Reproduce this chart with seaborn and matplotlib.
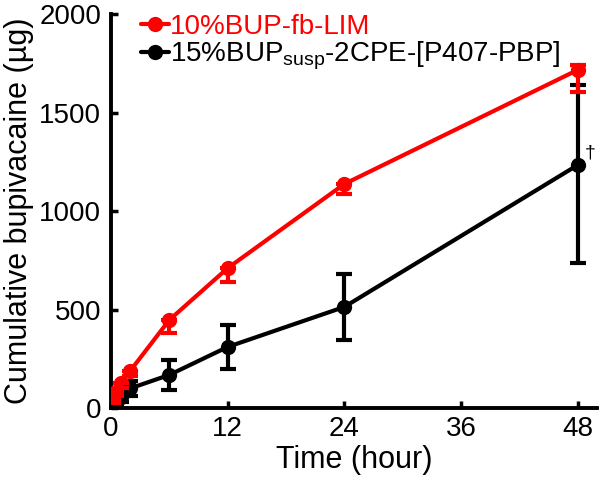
import matplotlib
matplotlib.use("Agg")
import matplotlib.pyplot as plt
import seaborn as sns
import pandas as pd
import numpy as np
from matplotlib.lines import Line2D

sns.set_theme(style="ticks")
plt.rcParams['font.family'] = ['Liberation Sans', 'DejaVu Sans']
plt.rcParams['mathtext.fontset'] = 'custom'
plt.rcParams['mathtext.rm'] = 'Liberation Sans'
plt.rcParams['mathtext.it'] = 'Liberation Sans'
plt.rcParams['text.color'] = 'black'
plt.rcParams['axes.labelcolor'] = 'black'
plt.rcParams['xtick.color'] = 'black'
plt.rcParams['ytick.color'] = 'black'

time_h = [0.25, 0.5, 1, 2, 6, 12, 24, 48]
red_vals = [40, 80, 125, 190, 447, 710, 1137, 1716]
red_err_lo = [15, 20, 25, 30, 67, 70, 51, 112]
red_err_hi = [0, 0, 0, 0, 0, 0, 0, 25]
black_vals = [10, 25, 55, 100, 168, 310, 513, 1233]
black_err_lo = [8, 15, 25, 38, 75, 110, 167, 497]
black_err_hi = [8, 15, 25, 38, 75, 110, 167, 407]
label_red = '10%BUP-fb-LIM'
label_black = r'15%BUP$_{\mathrm{susp}}$-2CPE-[P407-PBP]'

df = pd.DataFrame({
    'time': time_h * 2,
    'value': red_vals + black_vals,
    'group': [label_red] * len(time_h) + [label_black] * len(time_h),
})

fig = plt.figure(figsize=(6.0, 4.84), dpi=100)
ax = fig.add_axes([0.185, 0.157, 0.81, 0.814])

palette = {label_red: '#ff0000', label_black: '#000000'}
sns.lineplot(data=df, x='time', y='value', hue='group', palette=palette,
             marker='o', markersize=11, markeredgewidth=0, linewidth=3,
             ax=ax, legend=False, zorder=3)

ax.errorbar(time_h, black_vals, yerr=[black_err_lo, black_err_hi], fmt='none',
            ecolor='black', elinewidth=3, capsize=6, capthick=3, zorder=2)
ax.errorbar(time_h, red_vals, yerr=[red_err_lo, red_err_hi], fmt='none',
            ecolor='#ff0000', elinewidth=3, capsize=6, capthick=3, zorder=4)

ax.text(48.7, 1233 + 60, '†', fontsize=14, ha='left', va='center', color='black')

ax.set_xlim(0, 50)
ax.set_ylim(0, 2000)
ax.set_xticks([0, 12, 24, 36, 48])
ax.set_yticks([0, 500, 1000, 1500, 2000])
ax.tick_params(direction='in', length=5, width=2.5, labelsize=20, colors='black')
ax.tick_params(axis='y', pad=7)
ax.tick_params(axis='x', pad=6)
for s in ['top', 'right']:
    ax.spines[s].set_visible(False)
for s in ['left', 'bottom']:
    ax.spines[s].set_linewidth(2.8)
    ax.spines[s].set_color('black')

ax.set_xlabel('Time (hour)', fontsize=22, labelpad=2)
ax.set_ylabel('Cumulative bupivacaine (µg)', fontsize=22, labelpad=4)

handles = [Line2D([], [], color='#ff0000', marker='o', markersize=11, lw=3, markeredgewidth=0),
           Line2D([], [], color='black', marker='o', markersize=11, lw=3, markeredgewidth=0)]
leg = ax.legend(handles, [label_red, label_black], loc='upper left',
                bbox_to_anchor=(0.062, 1.0), frameon=False, fontsize=20,
                handlelength=1.0, handletextpad=0.05, labelspacing=0.0,
                borderaxespad=0, borderpad=0)
leg.get_texts()[0].set_color('#ff0000')

fig.savefig('out.png', dpi=100)
